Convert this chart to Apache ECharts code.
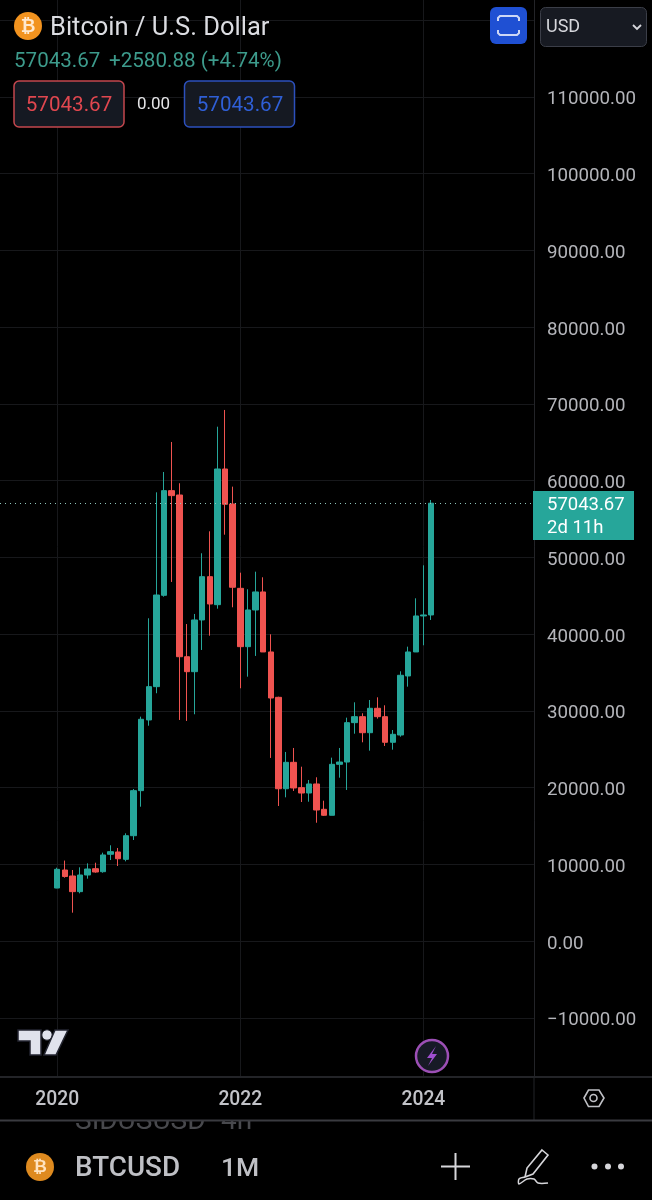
<!DOCTYPE html>
<html><head><meta charset="utf-8">
<style>html,body{margin:0;padding:0;background:#000}#c{width:652px;height:1200px}</style>
<script src="https://cdn.jsdelivr.net/npm/echarts@6/dist/echarts.min.js"></script>
</head><body><div id="c"></div>
<script>
const months = ['2020-01','2020-02','2020-03','2020-04','2020-05','2020-06','2020-07','2020-08','2020-09','2020-10','2020-11','2020-12',
'2021-01','2021-02','2021-03','2021-04','2021-05','2021-06','2021-07','2021-08','2021-09','2021-10','2021-11','2021-12',
'2022-01','2022-02','2022-03','2022-04','2022-05','2022-06','2022-07','2022-08','2022-09','2022-10','2022-11','2022-12',
'2023-01','2023-02','2023-03','2023-04','2023-05','2023-06','2023-07','2023-08','2023-09','2023-10','2023-11','2023-12',
'2024-01','2024-02'];
const opens  = [6900,9250,8470,6430,8600,9420,9030,11300,11600,10640,13720,19590,
28800,33140,45040,58680,58110,37040,35090,41830,47470,43820,61500,56940,
45950,38350,43130,45480,37660,31750,19840,23280,19980,19280,20460,17160,
16380,23020,23320,28450,29230,27140,30320,29230,25890,26840,34530,37660,
42350,42480];
const closes = [9340,8400,6430,8600,9380,8990,11210,11640,10720,13720,19590,28890,
33140,45080,58680,58030,37040,35090,41830,47470,43910,61500,56900,46090,
38350,43130,45480,37660,31660,19840,23280,19940,19280,20460,17070,16380,
23020,23320,28450,29230,27140,30320,29230,25890,26930,34620,37660,42350,
42480,57043.67];
const lows   = [6870,8250,3690,6210,8120,8900,8900,10550,9770,10380,13160,17500,
28050,32280,44860,46780,28800,28670,29540,37920,39780,43300,52940,43480,
32930,34440,37140,37660,23850,17590,18720,19550,18110,18150,15410,16290,
16380,21280,19680,27010,25890,24800,28970,25410,24930,26620,33140,37660,
38530,41830];
const highs  = [9550,10480,9250,9600,10120,10200,11510,12470,12120,14030,19800,29230,
42050,58460,61110,65020,59640,41300,42610,50520,53380,67010,69190,59200,
47990,45830,48120,47390,39960,31830,24630,25150,22710,20980,21330,18280,
23890,25150,29100,31100,29670,31400,31750,30710,27490,35140,38350,44650,
48950,57460];
const yearTicks = ['2020-01','2022-01','2024-01'];
const leadBlanks = 7, tailBlanks = 13;
const lastPrice = 57043.67;
const UP = '#26a69a', DOWN = '#ef5350';
const F = 'Roboto, sans-serif';

const cats = [];
for (let i=0;i<leadBlanks;i++) cats.push('a'+i);
months.forEach(m=>cats.push(m));
for (let i=0;i<tailBlanks;i++) cats.push('z'+i);
const candles = new Array(leadBlanks).fill('-').concat(months.map((m,i)=>[opens[i],closes[i],lows[i],highs[i]]));

function T(x,y,text,fill,size,opt){opt=opt||{};return {type:'text',z:opt.z||20,silent:true,style:{x,y,text,fill,font:(opt.w||400)+' '+size+'px '+F,textAlign:opt.a||'left',textVerticalAlign:'middle'}};}
function R(x,y,w,h,fill,stroke,r,z,lw){return {type:'rect',z:z||20,silent:true,shape:{x,y,width:w,height:h,r:r||0},style:{fill,stroke:stroke||null,lineWidth:lw||1}};}
function L(x1,y1,x2,y2,stroke,w,z){return {type:'line',z:z||20,silent:true,shape:{x1,y1,x2,y2},style:{stroke,lineWidth:w||1}};}
function C(cx,cy,r,fill,stroke,lw,z){return {type:'circle',z:z||20,silent:true,shape:{cx,cy,r},style:{fill,stroke:stroke||null,lineWidth:lw||1}};}
function PG(points,fill,stroke,lw){return {type:'polygon',z:22,silent:true,shape:{points},style:{fill:fill,stroke:stroke||null,lineWidth:lw||1}};}
function PL(points,stroke,lw,smooth){return {type:'polyline',z:22,silent:true,shape:{points,smooth:smooth||0},style:{fill:null,stroke,lineWidth:lw||1}};}

const g = [
 // time-axis strip and panel below
 T(75,1122,'SIDUSUSD','#48494d',28,{z:3}),
 T(221,1122,'4h','#48494d',28,{z:3}),
 R(0,1077,652,43,'#000',null,0,4),
 L(0,1077,652,1077,'#232428',2,5),
 L(534,1077,534,1120,'#232428',1,5),
 L(0,1120.5,652,1120.5,'#3a3b40',2,5),
 // price tag
 R(533,491,101,49,'#26a69a'),
 T(547,505,'57043.67','#ffffff',18.5),
 T(547,528,'2d 11h','#ffffff',18.5),
 // header
 C(28,26,14,'#f2931f'),
 T(28,27,'₿','#ffe9cf',18,{a:'center',w:700}),
 T(50,29,'Bitcoin / U.S. Dollar','#dcdde2',25.5),
 T(14,62,'57043.67','#3d9b8c',20.6),
 T(109,62,'+2580.88 (+4.74%)','#3d9b8c',20.6),
 R(14,81,110,46,'#151922','#c4474e',5,20,1.5),
 T(69,106,'57043.67','#e0474f',20.6,{a:'center'}),
 T(137,105,'0.00','#e4e4e6',17),
 R(184.5,81,110,46,'#151922','#2c50bd',5,20,1.5),
 T(240,106,'57043.67','#2f5fd6',20.6,{a:'center'}),
 R(490,7,37,37,'#1f50d3',null,6),
 PL([[498,21],[498,18],[500,16],[517,16],[519,18],[519,21]],'#cdd7f6',2),
 PL([[498,30],[498,33],[500,35],[517,35],[519,33],[519,30]],'#cdd7f6',2),
 R(540.5,7.5,106,39,'#171a22','#3b3e48',5),
 T(546,27,'USD','#d6d7dc',18),
 PL([[633,25],[637,29],[641,25]],'#d6d7dc',1.8),
 // TradingView mark
 PG([[18,1030],[41,1030],[41,1055],[30,1055],[30,1041],[18,1041]],'#e0e2ec','#232530',1.5),
 C(47,1035,5.2,'#e0e2ec','#232530',1,22),
 PG([[55,1030],[68,1030],[56,1055],[44,1055]],'#e0e2ec','#232530',1.5),
 // lightning badge
 C(432,1056,16,'#171a26','#9c4fb5',2.5),
 PG([[436,1046],[427,1058],[432,1058],[428,1066],[437,1054],[432,1054]],'#a04fd0'),
 // hexagon settings
 PG([[584,1098],[588.5,1090],[599,1090],[604,1098],[599,1106.5],[588.5,1106.5]],null,'#c0c1c6',1.6),
 C(593.5,1098,3.5,null,'#c0c1c6',1.6),
 // bottom bar
 C(40,1167,14,'#de8a1f'),
 T(40,1168,'₿','#ffe3c0',17,{a:'center',w:700}),
 T(75,1169,'BTCUSD','#bfc0c5',27.8,{w:500}),
 T(221,1169,'1M','#bfc0c5',26.5,{w:500}),
 L(441,1166.5,470,1166.5,'#d6d6da',2),
 L(455.5,1153,455.5,1180,'#d6d6da',2),
 PG([[542,1150],[548,1155],[533,1174],[525,1177],[527,1168]],null,'#d6d6da',1.6),
 PL([[525,1177],[519,1179],[519,1184],[527,1179],[534,1179],[538,1183],[548,1183]],'#d6d6da',1.5,0.3),
 C(594.5,1166.5,3,'#d6d6da'),C(608,1166.5,3,'#d6d6da'),C(621,1166.5,3,'#d6d6da')
];

const option = {
 animation:false, backgroundColor:'#000',
 grid:[
  {left:0,width:534,top:941-130000*0.007675,height:150000*0.007675,containLabel:false,outerBoundsMode:'none'},
  {left:0,width:534,top:1077,height:1,containLabel:false,outerBoundsMode:'none'}
 ],
 xAxis:[
  {type:'category',gridIndex:0,data:cats,boundaryGap:true,z:0,
   axisLine:{show:false},axisTick:{show:false},axisLabel:{show:false},
   splitLine:{show:true,alignWithLabel:true,interval:(i,v)=>yearTicks.includes(v),lineStyle:{color:'#17181b',width:1}}},
  {type:'category',gridIndex:1,data:cats,boundaryGap:true,z:6,
   axisLine:{show:false},axisTick:{show:false},splitLine:{show:false},
   axisLabel:{show:true,interval:(i,v)=>yearTicks.includes(v),formatter:v=>v.slice(0,4),margin:13,color:'#c2c3c8',fontFamily:F,fontSize:19.3,fontWeight:500,hideOverlap:false}}
 ],
 yAxis:[
  {type:'value',gridIndex:0,position:'right',min:-20000,max:130000,interval:10000,z:0,scale:false,
   axisLine:{show:true,onZero:false,lineStyle:{color:'#232428'}},axisTick:{show:false},
   splitLine:{show:true,lineStyle:{color:'#17181b',width:1}},
   axisLabel:{margin:13,hideOverlap:false,
     formatter:v=>'{a|'+(v<0?'\u2212':'')+Math.abs(v).toFixed(2)+'}',
     rich:{a:{color:'#b4b5ba',fontFamily:F,fontSize:18.7,padding:[6,0,0,0]}}}},
  {type:'value',gridIndex:1,show:false}
 ],
 series:[{type:'candlestick',xAxisIndex:0,yAxisIndex:0,data:candles,barWidth:6,z:2,silent:true,
  itemStyle:{color:UP,color0:DOWN,borderColor:UP,borderColor0:DOWN,borderWidth:1},
  markLine:{silent:true,symbol:'none',label:{show:false},animation:false,
   lineStyle:{color:'#8fc4ba',type:[1,4],width:1},data:[{yAxis:lastPrice}]}
 }],
 graphic:{elements:g}
};
echarts.init(document.getElementById('c')).setOption(option);
</script></body></html>
